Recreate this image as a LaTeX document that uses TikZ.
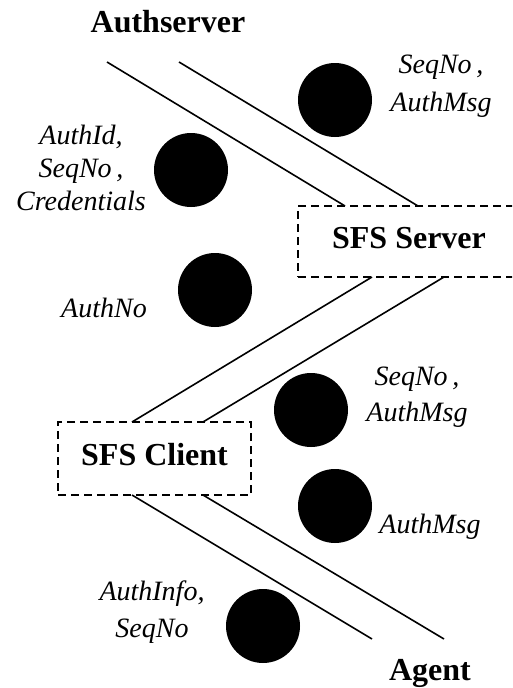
\documentclass[tikz,border=0pt]{standalone}
\usepackage{fontspec}
\setmainfont{Liberation Serif}
\begin{document}
\begin{tikzpicture}[x=1pt,y=-1pt,
  every node/.style={inner sep=0pt, outer sep=0pt},
  party/.style={font=\bfseries\fontsize{32}{36}\selectfont},
  msg/.style={font=\itshape\fontsize{28}{#1}\selectfont, align=center},
  msg/.default=36,
  token/.style={circle, fill=black, minimum size=74pt},
  hostbox/.style={draw, dashed, dash pattern=on 8pt off 5pt, line width=1.4pt,
    font=\bfseries\fontsize{32}{36}\selectfont, text height=22pt, text depth=8pt},
  link/.style={line width=1.6pt}]
\useasboundingbox (0,0) rectangle (512,688);
\clip (0,0) rectangle (512,688);

% endpoints
\node[party, anchor=base] (auth) at (168,32) {Authserver};
\node[party, anchor=base] (agent) at (430,680) {Agent};

% hosts
\node[hostbox, minimum width=222pt, minimum height=71pt] (srv) at (409,241.5) {SFS Server};
\node[hostbox, minimum width=193pt, minimum height=73pt] (cli) at (154.5,458.5) {SFS Client};

% channel ends
\coordinate (a1) at (107,62);
\coordinate (a2) at (179,62);
\coordinate (st1) at (345,206);
\coordinate (st2) at (418,206);
\coordinate (sb1) at (372,277);
\coordinate (sb2) at (444,277);
\coordinate (ct1) at (132,422);
\coordinate (ct2) at (203,422);
\coordinate (cb1) at (132,495);
\coordinate (cb2) at (203,495);
\coordinate (g1) at (372,639);
\coordinate (g2) at (444,639);

% channels
\draw[link] (a1) -- (st1);
\draw[link] (a2) -- (st2);
\draw[link] (sb1) -- (ct1);
\draw[link] (sb2) -- (ct2);
\draw[link] (cb1) -- (g1);
\draw[link] (cb2) -- (g2);

% messages
\node[token] (t1) at (335,100) {};
\node[msg=38] (m1) at (441,86) {SeqNo\,,\\AuthMsg};

\node[token] (t2) at (191,170) {};
\node[msg=33] (m2) at (81,168) {AuthId,\\SeqNo\,,\\Credentials};

\node[token] (t3) at (215,290) {};
\node[msg, anchor=base] (m3) at (104,317) {AuthNo};

\node[token] (t4) at (311,410) {};
\node[msg=36] (m4) at (417,397.5) {SeqNo\,,\\AuthMsg};

\node[token] (t5) at (335,506) {};
\node[msg, anchor=base] (m5) at (430,533) {AuthMsg};

\node[token] (t6) at (263,626) {};
\node[msg=37] (m6) at (152,612) {AuthInfo,\\SeqNo};
\end{tikzpicture}
\end{document}
